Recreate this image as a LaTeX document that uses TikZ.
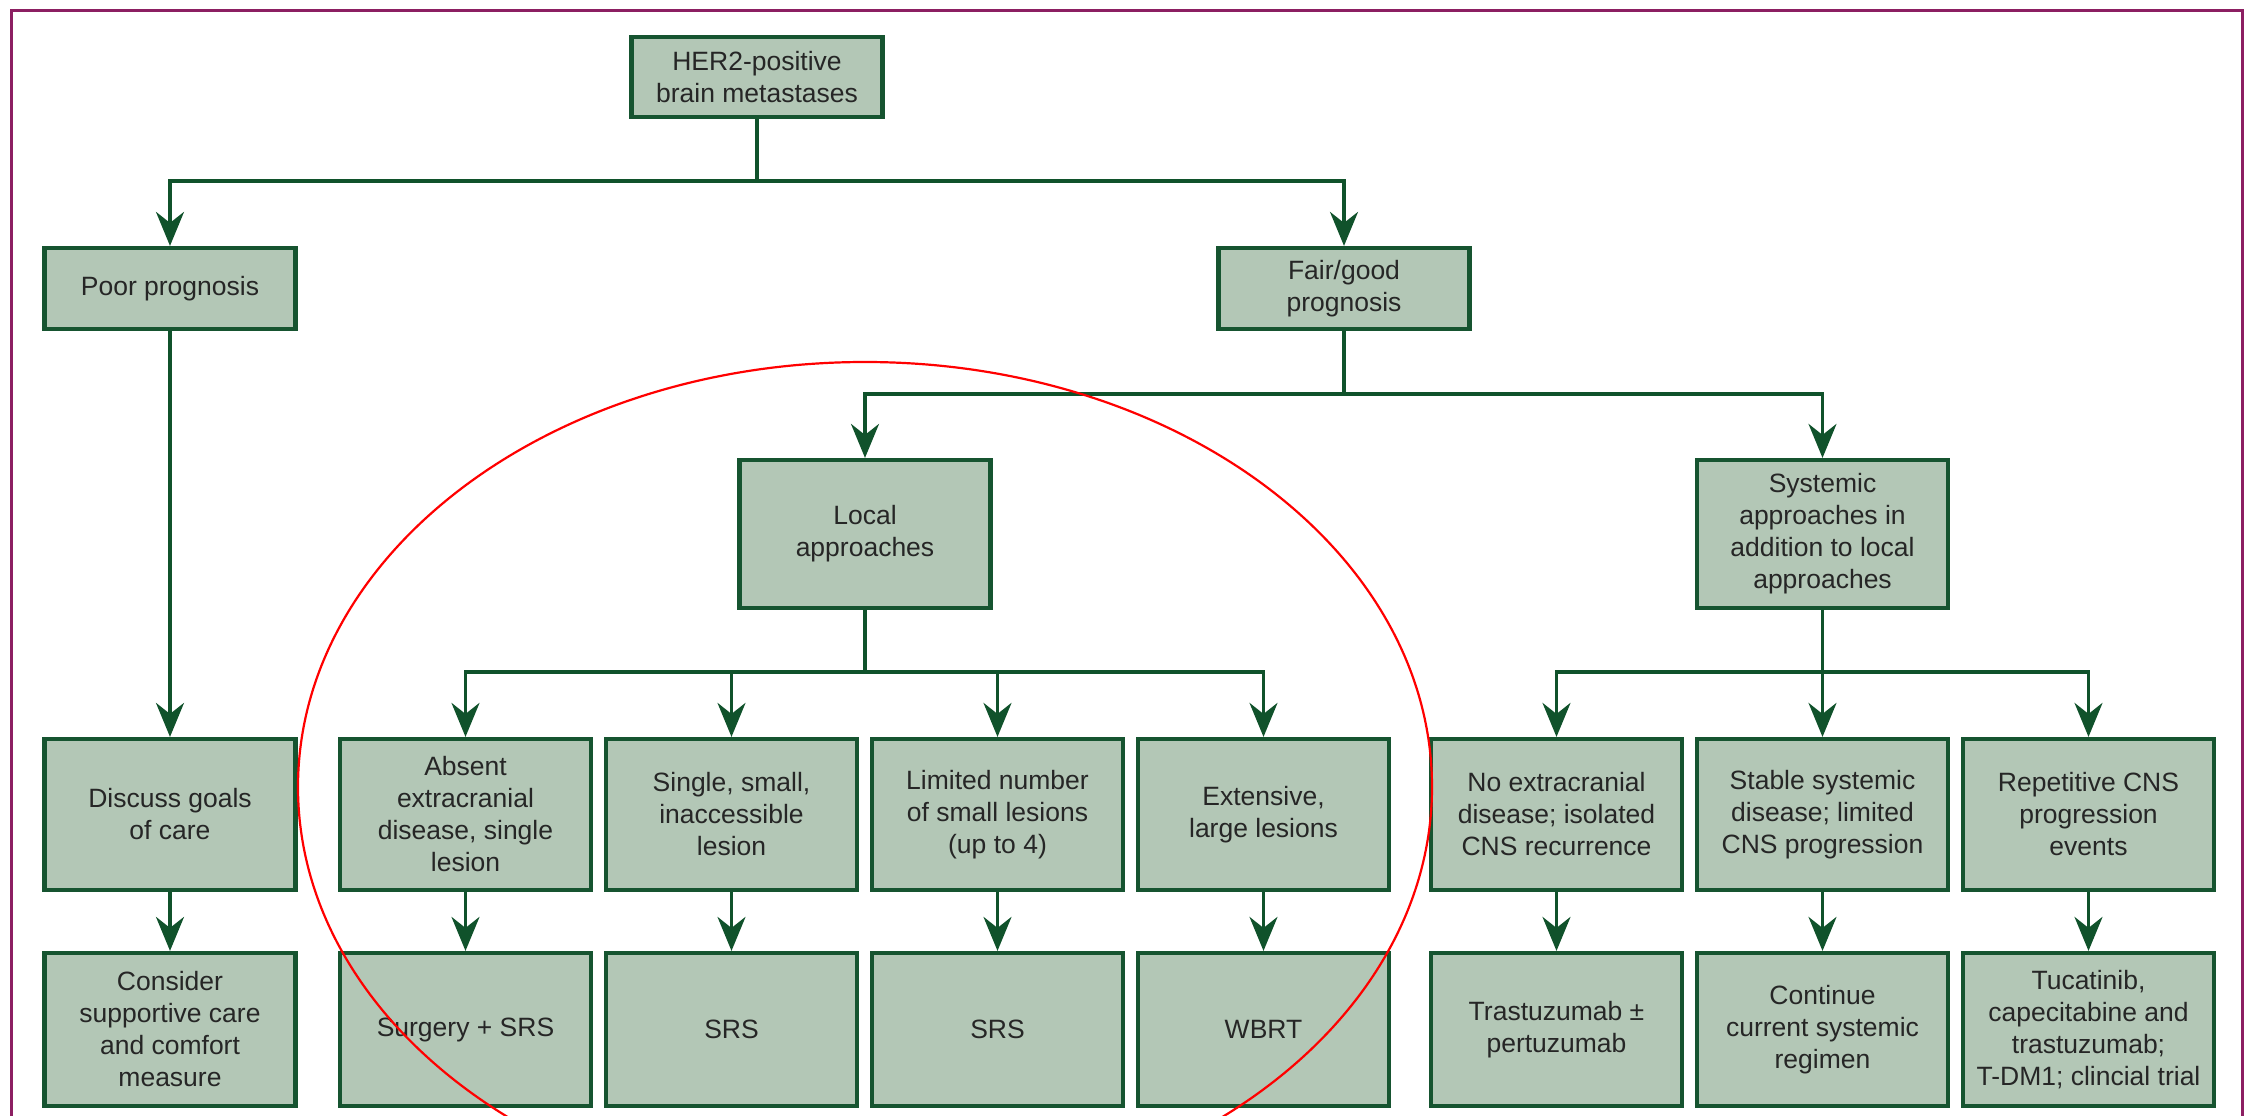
\documentclass[tikz,border=0pt]{standalone}
\usepackage{fontspec}
\setmainfont{Liberation Sans}
\usetikzlibrary{arrows.meta}
\definecolor{boxfill}{HTML}{B3C7B6}
\definecolor{boxline}{HTML}{165430}
\definecolor{arrowgreen}{HTML}{10522B}
\definecolor{framecol}{HTML}{8C1F62}
\definecolor{txtcol}{HTML}{262626}
\tikzset{
  box/.style={draw=boxline, line width=4.2pt, fill=boxfill, text=txtcol, align=center,
    minimum width=251pt, inner sep=2pt, font=\fontsize{26.5}{32}\selectfont},
  smallbox/.style={box, minimum height=81pt},
  midbox/.style={box, minimum height=148pt},
  rowbox/.style={box, minimum height=151pt},
  lowbox/.style={box, minimum height=153pt},
  conn/.style={draw=arrowgreen, line width=3.2pt},
  arr/.style={conn, -{Stealth[length=34pt, width=28pt, inset=11pt]}},
}
\begin{document}
\begin{tikzpicture}[x=1pt, y=-1pt]
\useasboundingbox (0,0) rectangle (2257,1116);
\clip (0,0) rectangle (2257,1116);
% frame
\draw[framecol, line width=3pt] (11,1200) -- (11,11) -- (2242,11) -- (2242,1200);

% junction levels
\coordinate (j1) at (0,181);
\coordinate (j2) at (0,394);
\coordinate (j3) at (0,672);

% nodes
\node[smallbox, minimum height=80pt] (her2) at (757,77) {HER2-positive\\brain metastases};
\node[smallbox] (poor) at (170,288.5) {Poor prognosis};
\node[smallbox] (fair) at (1344,288.5) {Fair/good\\prognosis};
\node[midbox] (local) at (865,534) {Local\\approaches};
\node[midbox] (sys) at (1822.5,534) {Systemic\\approaches in\\addition to local\\approaches};

\node[rowbox] (discuss) at (170,814.5) {Discuss goals\\of care};
\node[rowbox] (absent) at (465.5,814.5) {Absent\\extracranial\\disease, single\\lesion};
\node[rowbox] (single) at (731.5,814.5) {Single, small,\\inaccessible\\lesion};
\node[rowbox] (limited) at (997.5,814.5) {Limited number\\of small lesions\\(up to 4)};
\node[rowbox] (extensive) at (1263.5,814.5) {Extensive,\\large lesions};
\node[rowbox] (noext) at (1556.5,814.5) {No extracranial\\disease; isolated\\CNS recurrence};
\node[rowbox] (stable) at (1822.5,814.5) {Stable systemic\\disease; limited\\CNS progression};
\node[rowbox] (repet) at (2088.5,814.5) {Repetitive CNS\\progression\\events};

\node[lowbox] (consider) at (170,1029.5) {Consider\\supportive care\\and comfort\\measure};
\node[lowbox] (surg) at (465.5,1029.5) {Surgery + SRS};
\node[lowbox] (srsa) at (731.5,1029.5) {SRS};
\node[lowbox] (srsb) at (997.5,1029.5) {SRS};
\node[lowbox] (wbrt) at (1263.5,1029.5) {WBRT};
\node[lowbox] (trast) at (1556.5,1029.5) {Trastuzumab ±\\pertuzumab};
\node[lowbox] (cont) at (1822.5,1029.5) {Continue\\current systemic\\regimen};
\node[lowbox] (tuca) at (2088.5,1029.5) {Tucatinib,\\capecitabine and\\trastuzumab;\\T-DM1; clincial trial};

% connectors level 1
\draw[conn] (her2.south) -- (her2.south |- j1);
\draw[arr] (her2.south |- j1) -| (poor.north);
\draw[arr] (her2.south |- j1) -| (fair.north);

% poor branch
\draw[arr] (poor.south) -- (discuss.north);
\draw[arr] (discuss.south) -- (consider.north);

% fair branch
\draw[conn] (fair.south) -- (fair.south |- j2);
\draw[arr] (fair.south |- j2) -| (local.north);
\draw[arr] (fair.south |- j2) -| (sys.north);

% local branch
\draw[conn] (local.south) -- (local.south |- j3);
\draw[arr] (local.south |- j3) -| (absent.north);
\draw[arr] (local.south |- j3) -| (single.north);
\draw[arr] (local.south |- j3) -| (limited.north);
\draw[arr] (local.south |- j3) -| (extensive.north);

% systemic branch
\draw[conn] (sys.south) -- (sys.south |- j3);
\draw[arr] (sys.south |- j3) -| (noext.north);
\draw[arr] (sys.south |- j3) -- (stable.north);
\draw[arr] (sys.south |- j3) -| (repet.north);

% row 3 to row 4
\draw[arr] (absent.south) -- (surg.north);
\draw[arr] (single.south) -- (srsa.north);
\draw[arr] (limited.south) -- (srsb.north);
\draw[arr] (extensive.south) -- (wbrt.north);
\draw[arr] (noext.south) -- (trast.north);
\draw[arr] (stable.south) -- (cont.north);
\draw[arr] (repet.south) -- (tuca.north);

% red ellipse
\draw[red, line width=2.2pt] (865,787) ellipse [x radius=567pt, y radius=425pt];
\end{tikzpicture}
\end{document}
